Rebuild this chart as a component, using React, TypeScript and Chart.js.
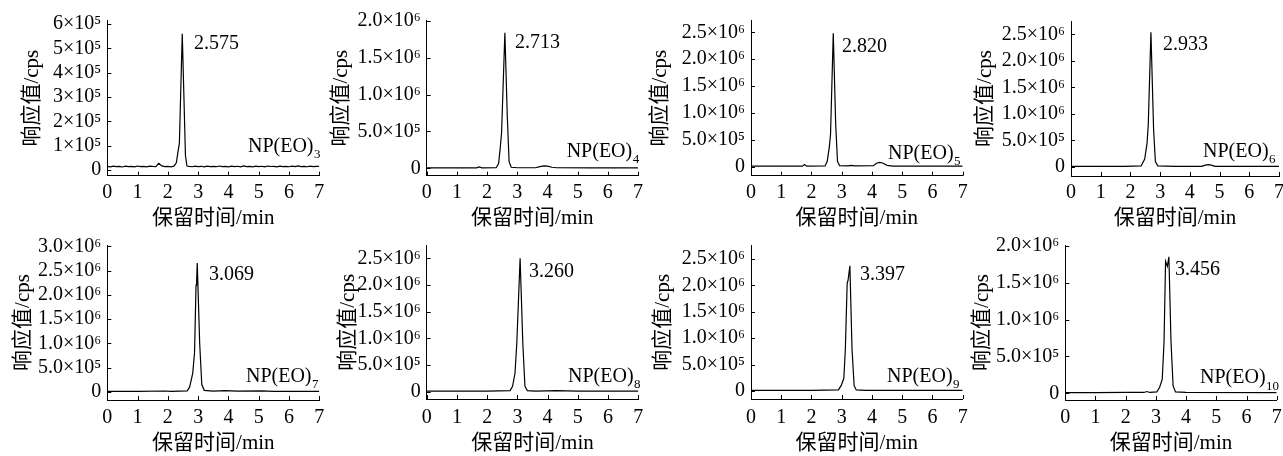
import React, { useEffect, useRef } from 'react';
import { Chart, registerables } from 'chart.js';

Chart.register(...registerables);

const FONT = "'Liberation Serif', 'Times New Roman', 'Noto Sans CJK SC', serif";

// ---------------- data ----------------
const xTicks = [0, 1, 2, 3, 4, 5, 6, 7];
const xTitle = '保留时间/min';
const yTitle = '响应值/cps';

const eo3Times = [0, 0.1, 0.2, 0.3, 0.4, 0.5, 0.6, 0.7, 0.8, 0.9, 1.0, 1.1, 1.2, 1.3, 1.4, 1.5, 1.6, 1.7, 1.8, 1.9, 2.0, 2.1, 2.2,
  2.28, 2.34, 2.38, 2.42, 2.475, 2.53, 2.58, 2.63,
  2.7, 2.8, 2.9, 3.0, 3.1, 3.2, 3.3, 3.4, 3.5, 3.6, 3.7, 3.8, 3.9, 4.0, 4.1, 4.2, 4.3, 4.4, 4.5, 4.6, 4.7, 4.8, 4.9, 5.0,
  5.1, 5.2, 5.3, 5.4, 5.5, 5.6, 5.7, 5.8, 5.9, 6.0, 6.1, 6.2, 6.3, 6.4, 6.5, 6.6, 6.7, 6.8, 6.9, 7.0];
const eo3Values = [15000, 13500, 16000, 14200, 15500, 12800, 16200, 14000, 15300, 13200, 16800, 14100, 15600, 13400, 16100, 15000, 14300, 28000, 17500, 14200, 15300, 13600, 16400,
  30000, 80000, 110000, 300000, 560000, 300000, 60000, 17000,
  15200, 13800, 16300, 14100, 15700, 13300, 16600, 14400, 15100, 13900, 16900, 14200, 15500, 13000, 16200, 14600, 15800, 13700, 17200, 14300,
  15400, 13600, 16500, 14000, 15900, 13500, 16700, 14800, 15200, 13400, 16100, 14500, 15600, 13900, 16400, 14100, 17500, 14700, 15300, 13800,
  16200, 14400, 15000, 15500];

const eo4Times = [0, 1.0, 1.65, 1.74, 1.83, 2.3, 2.38, 2.43, 2.48, 2.59, 2.67, 2.73, 2.8, 3.0, 3.6, 3.75, 3.88, 4.0, 4.15, 4.3, 5.5, 7.0];
const eo4Values = [5000, 5000, 6000, 20000, 6000, 8000, 60000, 250000, 480000, 1840000, 700000, 90000, 15000, 8000, 8000, 22000, 32000, 30000, 15000, 8000, 6000, 5000];

const eo5Times = [0, 1.0, 1.7, 1.77, 1.84, 2.45, 2.52, 2.59, 2.63, 2.72, 2.8, 2.86, 2.93, 3.2, 3.3, 3.45, 4.05, 4.15, 4.25, 4.35, 4.5, 4.7, 6.0, 7.0];
const eo5Values = [10000, 10000, 11000, 40000, 11000, 15000, 100000, 370000, 600000, 2480000, 800000, 100000, 20000, 15000, 25000, 15000, 18000, 65000, 80000, 70000, 25000, 12000, 10000, 10000];

const eo6Times = [0, 1.0, 1.8, 2.36, 2.48, 2.56, 2.6, 2.69, 2.78, 2.84, 2.92, 3.5, 4.4, 4.52, 4.62, 4.72, 4.85, 6.0, 7.0];
const eo6Values = [10000, 10000, 12000, 20000, 150000, 450000, 800000, 2540000, 700000, 100000, 20000, 12000, 12000, 35000, 45000, 35000, 12000, 10000, 10000];

const eo7Times = [0, 1.0, 1.9, 2.1, 2.64, 2.72, 2.82, 2.88, 2.93, 2.95, 2.97, 3.05, 3.12, 3.2, 3.5, 3.9, 4.3, 5.1, 5.5, 7.0];
const eo7Values = [10000, 10000, 16000, 10000, 20000, 100000, 380000, 800000, 2200000, 2300000, 2660000, 1000000, 150000, 30000, 15000, 25000, 12000, 20000, 10000, 10000];

const eo8Times = [0, 1.0, 2.0, 2.76, 2.84, 2.92, 2.98, 3.09, 3.18, 3.25, 3.33, 3.6, 4.3, 5.0, 7.0];
const eo8Values = [10000, 10000, 12000, 20000, 100000, 340000, 900000, 2500000, 900000, 100000, 20000, 12000, 20000, 12000, 10000];

const eo9Times = [0, 1.0, 2.0, 2.89, 2.98, 3.07, 3.12, 3.18, 3.21, 3.27, 3.34, 3.41, 3.48, 3.8, 5.0, 7.0];
const eo9Values = [10000, 10000, 12000, 20000, 100000, 240000, 800000, 2040000, 2100000, 2370000, 800000, 100000, 20000, 12000, 12000, 10000];

const eo10Times = [0, 1.0, 2.0, 2.6, 2.7, 2.8, 3.03, 3.12, 3.21, 3.27, 3.32, 3.38, 3.43, 3.5, 3.57, 3.65, 4.0, 7.0];
const eo10Values = [10000, 10000, 12000, 12000, 25000, 12000, 20000, 80000, 190000, 700000, 1790000, 1720000, 1850000, 700000, 100000, 20000, 12000, 10000];

const yTicksE5 = [0, 100000, 200000, 300000, 400000, 500000, 600000];
const yLabelsE5 = ['0', '1×10⁵', '2×10⁵', '3×10⁵', '4×10⁵', '5×10⁵', '6×10⁵'];
const yTicks20 = [0, 500000, 1000000, 1500000, 2000000];
const yLabels20 = ['0', '5.0×10⁵', '1.0×10⁶', '1.5×10⁶', '2.0×10⁶'];
const yTicks25 = [0, 500000, 1000000, 1500000, 2000000, 2500000];
const yLabels25 = ['0', '5.0×10⁵', '1.0×10⁶', '1.5×10⁶', '2.0×10⁶', '2.5×10⁶'];
const yTicks30 = [0, 500000, 1000000, 1500000, 2000000, 2500000, 3000000];
const yLabels30 = ['0', '5.0×10⁵', '1.0×10⁶', '1.5×10⁶', '2.0×10⁶', '2.5×10⁶', '3.0×10⁶'];

const peakLabels = ['2.575', '2.713', '2.820', '2.933', '3.069', '3.260', '3.397', '3.456'];
const compoundSubs = ['3', '4', '5', '6', '7', '8', '9', '10'];
// annotation anchors in data units [time, response]
const peakLabelAt = [[2.862, 518000], [2.925, 1700000], [3.009, 2227000], [3.097, 2310000], [3.357, 2415000], [3.384, 2249000], [3.604, 2197000], [3.632, 1671000]];
const compoundAt = [[4.645, 96000], [4.637, 225000], [4.53, 249000], [4.443, 284000], [4.579, 310000], [4.674, 281000], [4.497, 271000], [4.46, 207000]];
const yRanges = [[-23000, 614000], [-100000, 2004000], [-167000, 2716000], [-170000, 2750000], [-170000, 3030000], [-137000, 2736000], [-152000, 2752000], [-90000, 2010000]];

const seriesTimes = [eo3Times, eo4Times, eo5Times, eo6Times, eo7Times, eo8Times, eo9Times, eo10Times];
const seriesValues = [eo3Values, eo4Values, eo5Values, eo6Values, eo7Values, eo8Values, eo9Values, eo10Values];
const seriesYTicks = [yTicksE5, yTicks20, yTicks25, yTicks25, yTicks30, yTicks25, yTicks25, yTicks20];
const seriesYLabels = [yLabelsE5, yLabels20, yLabels25, yLabels25, yLabels30, yLabels25, yLabels25, yLabels20];

// ---------------- layout (page pixels) ----------------
const boxes = [
  { cx: 0, cy: 0, cw: 330, ch: 234 },
  { cx: 320, cy: 0, cw: 330, ch: 234 },
  { cx: 640, cy: 0, cw: 330, ch: 234 },
  { cx: 960, cy: 0, cw: 323, ch: 234 },
  { cx: 0, cy: 225, cw: 330, ch: 231 },
  { cx: 320, cy: 225, cw: 330, ch: 231 },
  { cx: 640, cy: 225, cw: 330, ch: 231 },
  { cx: 960, cy: 225, cw: 323, ch: 231 },
];
const areas = [
  { L: 107.3, R: 319.3, T: 20.7, B: 175.7 },
  { L: 426.7, R: 638, T: 20.7, B: 175.7 },
  { L: 751, R: 962.7, T: 20.7, B: 175.7 },
  { L: 1071, R: 1279, T: 21, B: 176 },
  { L: 107.3, R: 319.3, T: 245, B: 400 },
  { L: 426.7, R: 638.3, T: 245.7, B: 399 },
  { L: 751, R: 962.7, T: 245.7, B: 399 },
  { L: 1065.3, R: 1276.7, T: 245, B: 400 },
];
const yTitleCenterX = [32, 341, 660, 985, 23, 348, 663, 982];
const xLabelCenterY = [192.5, 192.5, 192.5, 192.5, 417.5, 417.5, 417.5, 417.5];
const xTitleCenterY = [218, 218, 218, 218, 443, 443, 443, 443];

const TICK_SIZE = 20;
const TITLE_SIZE = 21;
const LH = 1.2;

const innerTicks = {
  id: 'innerTicks',
  afterDraw(chart: any) {
    const { ctx, chartArea, scales } = chart;
    const x = scales.x;
    const y = scales.y;
    ctx.save();
    ctx.strokeStyle = '#000';
    ctx.lineWidth = 1;
    ctx.beginPath();
    y.ticks.forEach((t: any) => {
      const py = Math.round(y.getPixelForValue(t.value)) + 0.5;
      ctx.moveTo(chartArea.left, py);
      ctx.lineTo(chartArea.left + 4, py);
    });
    x.ticks.forEach((t: any) => {
      const px = Math.round(x.getPixelForValue(t.value)) + 0.5;
      ctx.moveTo(px, chartArea.bottom);
      ctx.lineTo(px, chartArea.bottom - 4);
    });
    ctx.stroke();
    ctx.restore();
  },
};

function makeAnnot(i: number) {
  return {
    id: 'annot' + i,
    afterDraw(chart: any) {
      const { ctx, scales } = chart;
      const x = scales.x;
      const y = scales.y;
      ctx.save();
      ctx.fillStyle = '#000';
      ctx.textBaseline = 'middle';
      ctx.textAlign = 'left';
      ctx.font = `20px ${FONT}`;
      const [pt, pv] = peakLabelAt[i];
      ctx.fillText(peakLabels[i], x.getPixelForValue(pt), y.getPixelForValue(pv));
      const [ct, cv] = compoundAt[i];
      const cxp = x.getPixelForValue(ct);
      const cyp = y.getPixelForValue(cv);
      const main = 'NP(EO)';
      ctx.fillText(main, cxp, cyp);
      const w = ctx.measureText(main).width;
      ctx.font = `13px ${FONT}`;
      ctx.fillText(compoundSubs[i], cxp + w + 0.5, cyp + 8);
      ctx.restore();
    },
  };
}

function Panel({ i }: { i: number }) {
  const ref = useRef<HTMLCanvasElement>(null);
  useEffect(() => {
    const box = boxes[i];
    const a = areas[i];
    const times = seriesTimes[i];
    const values = seriesValues[i];
    const yT = seriesYTicks[i];
    const yL = seriesYLabels[i];
    const tickLH = TICK_SIZE * LH;
    const titleLH = TITLE_SIZE * LH;
    const chart = new Chart(ref.current as HTMLCanvasElement, {
      type: 'line',
      data: {
        datasets: [
          {
            data: times.map((t, k) => ({ x: t, y: values[k] })),
            borderColor: '#000',
            borderWidth: 1.2,
            pointRadius: 0,
            tension: 0,
            fill: false,
          },
        ],
      },
      options: {
        animation: false,
        responsive: false,
        events: [],
        layout: { padding: { left: 0, top: a.T - box.cy, right: box.cx + box.cw - a.R, bottom: 0 } },
        plugins: { legend: { display: false }, tooltip: { enabled: false } },
        scales: {
          x: {
            type: 'linear',
            min: 0,
            max: 7,
            grid: { display: false, drawTicks: false },
            border: { display: true, color: '#000', width: 1 },
            afterBuildTicks: (s: any) => {
              s.ticks = xTicks.map((v) => ({ value: v }));
            },
            ticks: {
              autoSkip: false,
              maxRotation: 0,
              color: '#000',
              font: { family: FONT, size: TICK_SIZE, lineHeight: LH },
              padding: xLabelCenterY[i] - a.B - tickLH / 2,
              callback: (v: any) => String(v),
            },
            title: {
              display: true,
              text: xTitle,
              color: '#000',
              font: { family: FONT, size: TITLE_SIZE, lineHeight: LH },
              padding: { top: 0, bottom: box.cy + box.ch - xTitleCenterY[i] - titleLH / 2 },
            },
            afterFit: (s: any) => {
              s.height = box.cy + box.ch - a.B;
              s.paddingLeft = 0;
              s.paddingRight = 0;
            },
          },
          y: {
            type: 'linear',
            min: yRanges[i][0],
            max: yRanges[i][1],
            grid: { display: false, drawTicks: false },
            border: { display: true, color: '#000', width: 1 },
            afterBuildTicks: (s: any) => {
              s.ticks = yT.map((v) => ({ value: v }));
            },
            ticks: {
              autoSkip: false,
              color: '#000',
              padding: 6,
              font: { family: FONT, size: TICK_SIZE, lineHeight: LH },
              callback: (v: any) => {
                const k = yT.indexOf(v);
                return k >= 0 ? yL[k] : '';
              },
            },
            title: {
              display: true,
              text: yTitle,
              color: '#000',
              font: { family: FONT, size: TITLE_SIZE, lineHeight: LH },
              padding: { top: yTitleCenterX[i] - box.cx - titleLH / 2, bottom: 0 },
            },
            afterFit: (s: any) => {
              s.width = a.L - box.cx;
              s.paddingTop = 0;
              s.paddingBottom = 0;
            },
          },
        },
      } as any,
      plugins: [innerTicks, makeAnnot(i)],
    });
    return () => chart.destroy();
  }, [i]);
  const box = boxes[i];
  return (
    <canvas
      ref={ref}
      width={box.cw}
      height={box.ch}
      style={{ position: 'absolute', left: box.cx, top: box.cy, width: box.cw, height: box.ch }}
    />
  );
}

export default function App() {
  return (
    <div style={{ position: 'absolute', left: 0, top: 0, width: 1283, height: 456, background: '#fff', overflow: 'hidden' }}>
      {boxes.map((_, i) => (
        <Panel key={i} i={i} />
      ))}
    </div>
  );
}
